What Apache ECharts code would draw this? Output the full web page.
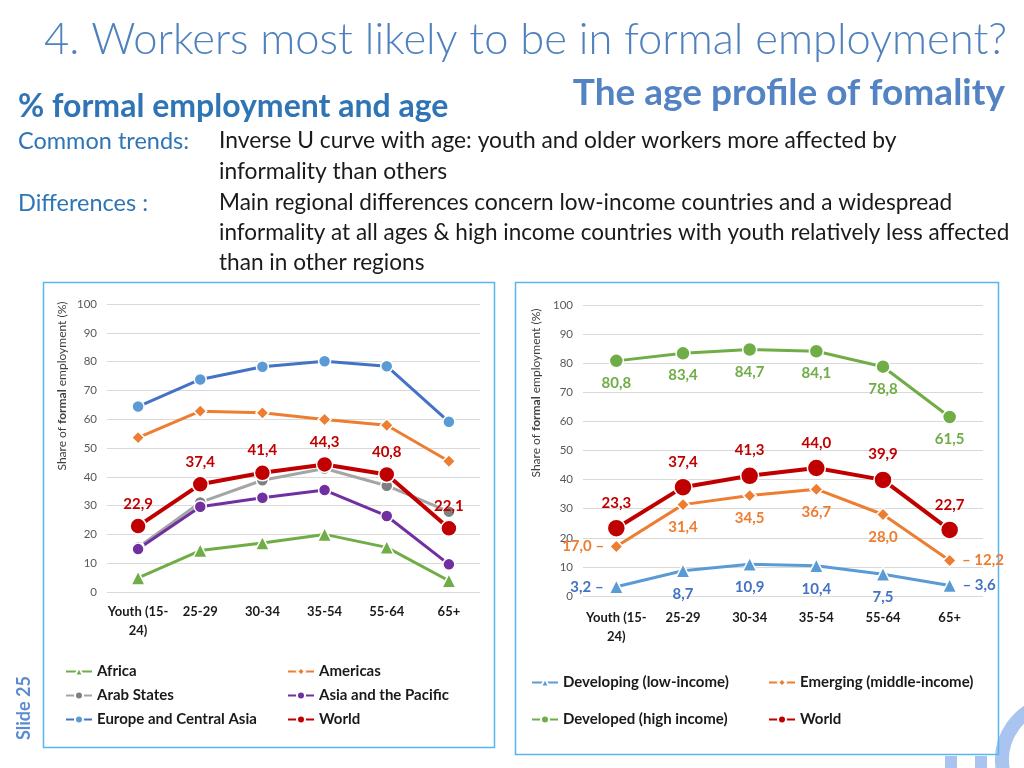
<!DOCTYPE html>
<html><head><meta charset="utf-8">
<script src="https://cdn.jsdelivr.net/npm/echarts@6/dist/echarts.min.js"></script>
<style>html,body{margin:0;padding:0;background:#fff}#c{width:1024px;height:768px}</style>
</head><body><div id="c"></div>
<script>
const categories = ['Youth (15-\n24)', '25-29', '30-34', '35-54', '55-64', '65+'];
const yTicks = [0, 10, 20, 30, 40, 50, 60, 70, 80, 90, 100];

// Left chart: regions
const africa = [4.9, 14.4, 17.0, 20.0, 15.5, 3.9];
const americas = [53.6, 62.8, 62.2, 59.9, 57.9, 45.4];
const arabStates = [15.5, 31.1, 38.8, 42.9, 36.9, 27.9];
const asiaPacific = [14.9, 29.6, 32.7, 35.4, 26.4, 9.6];
const europeCA = [64.4, 73.8, 78.2, 80.1, 78.4, 59.1];
const worldLeft = [22.9, 37.4, 41.4, 44.3, 40.8, 22.1];

// Right chart: income groups
const developing = [3.2, 8.7, 10.9, 10.4, 7.5, 3.6];
const emerging = [17.0, 31.4, 34.5, 36.7, 28.0, 12.2];
const developed = [80.8, 83.4, 84.7, 84.1, 78.8, 61.5];
const worldRight = [23.3, 37.4, 41.3, 44.0, 39.9, 22.7];

const FONT = 'Lato, "Open Sans", sans-serif';
const fmt = v => v.toFixed(1).replace('.', ',');

function yAxis(gi) {
  return {
    gridIndex: gi, type: 'value', min: yTicks[0], max: yTicks[yTicks.length - 1], interval: 10,
    axisLine: { show: false }, axisTick: { show: false },
    axisLabel: { color: '#595959', fontSize: 11.5, fontFamily: FONT, margin: 10 },
    splitLine: { lineStyle: { color: '#D9D9D9', width: 1 } }
  };
}
function xAxis(gi, margin) {
  return {
    gridIndex: gi, type: 'category', data: categories, boundaryGap: true,
    axisLine: { show: false }, axisTick: { show: false },
    axisLabel: { color: '#1a1a1a', fontSize: 13, fontWeight: 'bold', fontFamily: FONT, margin: margin, lineHeight: 19, interval: 0 }
  };
}
function line(name, data, gi, color, markerColor, symbol, size, width, extra) {
  return Object.assign({
    name, type: 'line', xAxisIndex: gi, yAxisIndex: gi, data,
    symbol, symbolSize: size, showAllSymbol: true,
    lineStyle: { color, width },
    itemStyle: { color: markerColor, borderColor: '#fff', borderWidth: 1.5 },
    emphasis: { disabled: true }, z: 2
  }, extra || {});
}
function labelled(arr, positions, color, dist) {
  return arr.map((v, i) => {
    const p = positions[i];
    return {
      value: v,
      label: {
        show: true, position: p.pos, distance: p.dist != null ? p.dist : dist,
        formatter: p.pre ? (p.pre + fmt(v)) : (p.post ? fmt(v) + p.post : fmt(v)),
        color, fontSize: 15, fontWeight: 'bold', fontFamily: FONT
      }
    };
  });
}

const chart = echarts.init(document.getElementById('c'), null, { renderer: 'canvas' });

const allTop = () => Array(6).fill(0).map(() => ({ pos: 'top' }));
const allBottom = () => Array(6).fill(0).map(() => ({ pos: 'bottom' }));
const leftWorldData = labelled(worldLeft, allTop(), '#C00000', 6);
const rightWorldData = labelled(worldRight, allTop(), '#C00000', 8);
const rightDevelopedData = labelled(developed, allBottom(), '#70AD47', 7);
const sidePos = [{ pos: 'left', dist: 5, post: ' –' }, { pos: 'bottom' }, { pos: 'bottom' }, { pos: 'bottom' }, { pos: 'bottom' }, { pos: 'right', dist: 5, pre: '– ' }];
const rightEmergingData = labelled(emerging, sidePos, '#ED7D31', 8);
const rightDevelopingData = labelled(developing, sidePos, '#4472C4', 8);

const legendText = { color: '#1a1a1a', fontSize: 15, fontWeight: 'bold', fontFamily: FONT };
function legend(names, left, top, gap) {
  return {
    data: names, orient: 'vertical', left, top, itemGap: gap, itemWidth: 26, itemHeight: 10,
    textStyle: legendText, selectedMode: false, padding: 0
  };
}

function bodyText(x, y, text, color, size, weight) {
  return { type: 'text', x: x, y: y, style: { text, fill: color, font: (weight || 'normal') + ' ' + size + 'px ' + FONT, textVerticalAlign: 'middle' } };
}

const option = {
  backgroundColor: '#ffffff',
  animation: false,
  grid: [
    { left: 107, right: 1024 - 480, top: 304, bottom: 768 - 592 },
    { left: 583, right: 1024 - 983, top: 305, bottom: 768 - 596 }
  ],
  xAxis: [xAxis(0, 10), xAxis(1, 12)],
  yAxis: [yAxis(0), yAxis(1)],
  legend: [
    legend(['Africa', 'Arab States', 'Europe and Central Asia'], 65, 664, 9),
    legend(['Americas', 'Asia and the Pacific', 'World'], 287, 664, 9),
    legend(['Developing (low-income)', 'Developed (high income)'], 531, 675, 22),
    legend(['Emerging (middle-income)', 'World '], 768, 675, 22)
  ],
  series: [
    line('Europe and Central Asia', europeCA, 0, '#4472C4', '#5B9BD5', 'circle', 12, 3),
    line('Americas', americas, 0, '#ED7D31', '#ED7D31', 'diamond', 13, 3),
    line('Arab States', arabStates, 0, '#A5A5A5', '#7F7F7F', 'circle', 12, 3),
    line('Asia and the Pacific', asiaPacific, 0, '#7030A0', '#7030A0', 'circle', 12, 3),
    line('Africa', africa, 0, '#70AD47', '#70AD47', 'triangle', 14, 3),
    line('World', leftWorldData, 0, '#C00000', '#C00000', 'circle', 16, 4, { z: 3 }),

    line('Developed (high income)', rightDevelopedData, 1, '#70AD47', '#70AD47', 'circle', 14, 3),
    line('Emerging (middle-income)', rightEmergingData, 1, '#ED7D31', '#ED7D31', 'diamond', 13, 3),
    line('Developing (low-income)', rightDevelopingData, 1, '#5B9BD5', '#5B9BD5', 'triangle', 14, 3),
    line('World ', rightWorldData, 1, '#C00000', '#C00000', 'circle', 18, 4, { z: 3 })
  ],
  graphic: [
    // panels
    { type: 'rect', shape: { x: 43.5, y: 282.5, width: 451, height: 465 }, style: { fill: 'none', stroke: '#5AB4EE', lineWidth: 1.5 }, z: -1 },
    { type: 'rect', shape: { x: 515.5, y: 282.5, width: 483, height: 472 }, style: { fill: 'none', stroke: '#5AB4EE', lineWidth: 1.5 }, z: -1 },
    // decorative background shapes (bottom-right)
    { type: 'arc', shape: { cx: 1060, cy: 760, r: 58, startAngle: Math.PI * 0.95, endAngle: Math.PI * 1.6 }, style: { stroke: '#A9C4EE', lineWidth: 14, fill: 'none' }, z: -2 },
    { type: 'rect', shape: { x: 945, y: 756, width: 12, height: 12 }, style: { fill: '#A9C4EE' }, z: -2 },
    { type: 'rect', shape: { x: 975, y: 756, width: 12, height: 12 }, style: { fill: '#A9C4EE' }, z: -2 },
    // axis names
    {
      type: 'text', x: 62, y: 386, rotation: Math.PI / 2,
      style: {
        text: '{n|Share of }{b|formal}{n| employment (%)}', textAlign: 'center', textVerticalAlign: 'middle',
        rich: { n: { fill: '#404040', font: '12px ' + FONT }, b: { fill: '#404040', font: 'bold 12px ' + FONT } }
      }
    },
    {
      type: 'text', x: 536, y: 393, rotation: Math.PI / 2,
      style: {
        text: '{n|Share of }{b|formal}{n| employment (%)}', textAlign: 'center', textVerticalAlign: 'middle',
        rich: { n: { fill: '#404040', font: '12px ' + FONT }, b: { fill: '#404040', font: 'bold 12px ' + FONT } }
      }
    },
    // header texts
    { type: 'text', x: 44, y: 40, style: { text: '4. Workers most likely to be in formal employment?', fill: '#4F81BD', font: '300 43.5px ' + FONT, textVerticalAlign: 'middle' } },
    { type: 'text', x: 1005, y: 93, style: { text: 'The age profile of fomality', fill: '#5483C3', font: 'bold 37px ' + FONT, textAlign: 'right', textVerticalAlign: 'middle' } },
    bodyText(18, 107, '% formal employment and age', '#2F75B5', 32, 'bold'),
    bodyText(18, 141, 'Common trends:', '#2E75B6', 23.5),
    bodyText(219, 141, 'Inverse U curve with age: youth and older workers more affected by', '#1a1a1a', 22.8),
    bodyText(219, 172, 'informality than others', '#1a1a1a', 22.8),
    bodyText(18, 203, 'Differences :', '#2E75B6', 23.5),
    bodyText(219, 203, 'Main regional differences concern low-income countries and a widespread', '#1a1a1a', 22.6),
    bodyText(219, 233, 'informality at all ages & high income countries with youth relatively less affected', '#1a1a1a', 22.5),
    bodyText(219, 263, 'than in other regions', '#1a1a1a', 22.6),
    // slide number
    {
      type: 'text', x: 24, y: 708, rotation: Math.PI / 2,
      style: { text: 'Slide 25', fill: '#5B8BD0', font: 'bold 18px ' + FONT, textAlign: 'center', textVerticalAlign: 'middle' }
    }
  ]
};
chart.setOption(option);
</script>
</body></html>
